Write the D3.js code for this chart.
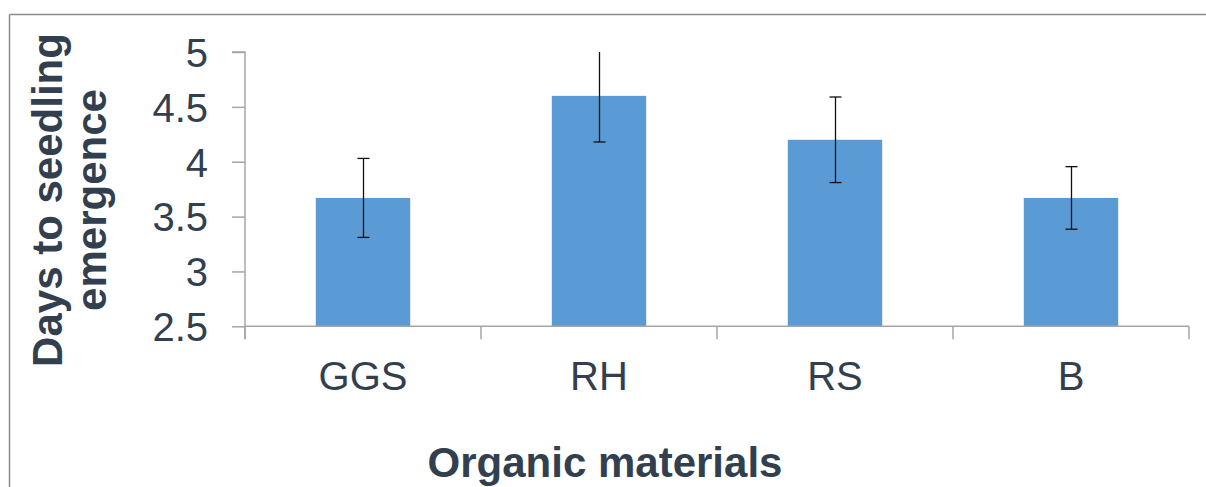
<!DOCTYPE html>
<html>
<head>
<meta charset="utf-8">
<script src="https://cdn.jsdelivr.net/npm/d3@7"></script>
<style>
  html, body { margin: 0; padding: 0; background: #fff; }
  svg { display: block; }
  text { font-family: "Liberation Sans", Arial, sans-serif; fill: #323F4F; }
</style>
</head>
<body>
<svg id="chart" width="1206" height="487"></svg>
<script>
const categories = ["GGS", "RH", "RS", "B"];
const values = [3.67, 4.6, 4.2, 3.67];
const errors = [0.36, 0.42, 0.39, 0.285];
const yTicks = [2.5, 3, 3.5, 4, 4.5, 5];
const yTickLabels = ["2.5", "3", "3.5", "4", "4.5", "5"];
const xTitle = "Organic materials";
const yTitleLines = ["Days to seedling", "emergence"];

const svg = d3.select("#chart");
const W = 1206, H = 487;
const plot = { left: 245, right: 1189, top: 52, bottom: 326.3 };

// outer frame (top and left edges visible)
svg.append("line").attr("x1", 9.5).attr("x2", W).attr("y1", 14.5).attr("y2", 14.5)
  .attr("stroke", "#8C8C8C").attr("stroke-width", 1.5);
svg.append("line").attr("x1", 9.5).attr("x2", 9.5).attr("y1", 14.5).attr("y2", H)
  .attr("stroke", "#8C8C8C").attr("stroke-width", 1.5);

const x = d3.scaleBand().domain(categories)
  .range([plot.left, plot.right]).paddingInner(0.6).paddingOuter(0.3);
const y = d3.scaleLinear().domain([2.5, 5]).range([plot.bottom, plot.top]);

// bars
svg.append("g").selectAll("rect").data(categories).join("rect")
  .attr("x", d => x(d))
  .attr("width", x.bandwidth())
  .attr("y", (d, i) => y(values[i]))
  .attr("height", (d, i) => y(2.5) - y(values[i]))
  .attr("fill", "#5B9BD5");

// error bars
const eg = svg.append("g").attr("stroke", "#111").attr("stroke-width", 1.3);
categories.forEach((c, i) => {
  const cx = Math.round(x(c) + x.bandwidth() / 2) + 0.5;
  const hiV = values[i] + errors[i], loV = values[i] - errors[i];
  const hi = y(Math.min(hiV, 5)), lo = y(Math.max(loV, 2.5));
  eg.append("line").attr("x1", cx).attr("x2", cx).attr("y1", hi).attr("y2", lo);
  if (hiV <= 5) eg.append("line").attr("x1", cx - 6).attr("x2", cx + 6).attr("y1", hi).attr("y2", hi);
  if (loV >= 2.5) eg.append("line").attr("x1", cx - 6).attr("x2", cx + 6).attr("y1", lo).attr("y2", lo);
});

// y axis
const yAxis = d3.axisLeft(y).tickValues(yTicks)
  .tickFormat((d, i) => yTickLabels[i]).tickSize(13).tickPadding(24);
const gy = svg.append("g").attr("transform", `translate(${plot.left},0)`).call(yAxis);
gy.select(".domain").attr("stroke", "#A6A6A6").attr("stroke-width", 1.5)
  .attr("d", `M-13,${plot.top}H0V${plot.bottom + 13}`);
gy.selectAll(".tick line").attr("stroke", "#A6A6A6").attr("stroke-width", 1.5);
gy.selectAll(".tick text").attr("font-size", 40).attr("fill", "#323F4F")
  .attr("font-family", "Liberation Sans, Arial, sans-serif").attr("dy", "0.36em");

// x axis
const gx = svg.append("g").attr("transform", `translate(0,${plot.bottom})`);
gx.append("line").attr("x1", plot.left).attr("x2", plot.right).attr("y1", 0).attr("y2", 0)
  .attr("stroke", "#A6A6A6").attr("stroke-width", 1.5);
const bounds = categories.map(c => x(c) - x.step() * x.paddingInner() / 2);
bounds.push(plot.right);
gx.selectAll("line.tk").data(bounds).join("line").attr("class", "tk")
  .attr("x1", d => d).attr("x2", d => d).attr("y1", 0).attr("y2", 13)
  .attr("stroke", "#A6A6A6").attr("stroke-width", 1.5);
gx.selectAll("text").data(categories).join("text")
  .attr("x", d => x(d) + x.bandwidth() / 2)
  .attr("y", 64)
  .attr("text-anchor", "middle")
  .attr("font-size", 40)
  .text(d => d);

// axis titles
svg.append("text").attr("x", 605).attr("y", 477).attr("text-anchor", "middle")
  .attr("font-size", 42).attr("font-weight", "bold").text(xTitle);

const yt = svg.append("text").attr("transform", "translate(62,200) rotate(-90)")
  .attr("text-anchor", "middle").attr("font-size", 42).attr("font-weight", "bold");
yTitleLines.forEach((t, i) => {
  yt.append("tspan").attr("x", 0).attr("y", i * 44).text(t);
});
</script>
</body>
</html>
